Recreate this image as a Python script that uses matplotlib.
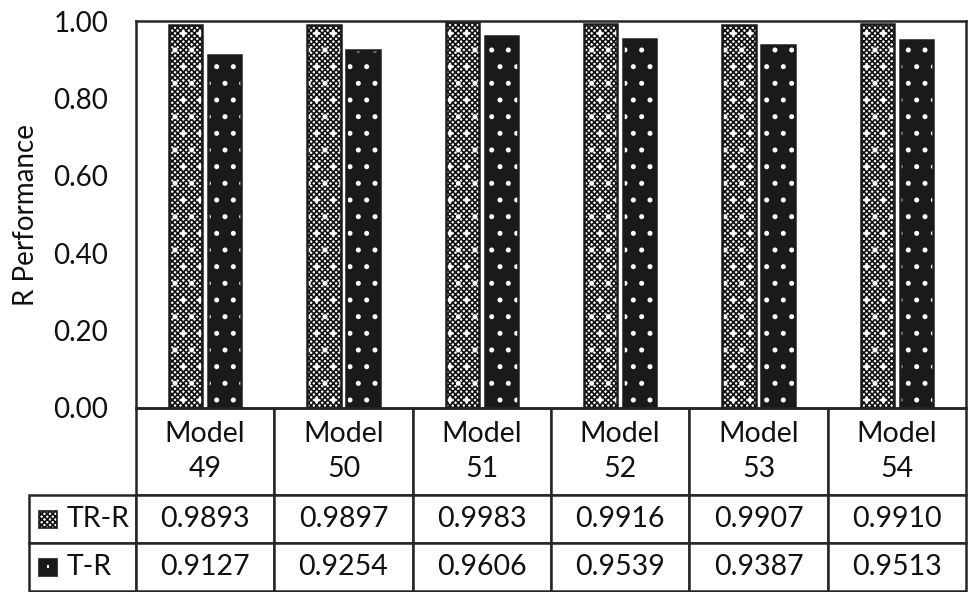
import numpy as np
import matplotlib.pyplot as plt
from matplotlib.patches import Rectangle

plt.rcParams['font.family'] = ['Lato', 'DejaVu Sans']
plt.rcParams['hatch.linewidth'] = 1.2

models = ['Model\n49', 'Model\n50', 'Model\n51', 'Model\n52', 'Model\n53', 'Model\n54']
series = ['TR-R', 'T-R']
tr_r = [0.9893, 0.9897, 0.9983, 0.9916, 0.9907, 0.9910]
t_r = [0.9127, 0.9254, 0.9606, 0.9539, 0.9387, 0.9513]
yticks = [0.0, 0.2, 0.4, 0.6, 0.8, 1.0]

dark = '#1a1a1a'
line = '#262626'

def checker_bar(ax, x, h, w, **kw):
    # grey checker with white dots, then an outline
    ax.bar(x, h, w, facecolor='white', edgecolor='#111111', hatch='xxxxxx', linewidth=0, **kw)
    ax.bar(x, h, w, facecolor='none', edgecolor='white', hatch='.', linewidth=0, **kw)
    ax.bar(x, h, w, facecolor='none', edgecolor=dark, linewidth=1.8, **kw)

def dotted_bar(ax, x, h, w, **kw):
    ax.bar(x, h, w, facecolor=dark, edgecolor='white', hatch='.', linewidth=0, **kw)
    ax.bar(x, h, w, facecolor='none', edgecolor=dark, linewidth=1.8, **kw)

fig = plt.figure(figsize=(9.68, 5.92), dpi=100)
ax = fig.add_axes([136/968, 1-408/592, 830/968, 387/592])

x = np.arange(len(models))
w = 0.239
checker_bar(ax, x - 0.141, tr_r, w)
dotted_bar(ax, x + 0.141, t_r, w)

ax.set_xlim(-0.5, len(models) - 0.5)
ax.set_ylim(0, 1)
ax.set_yticks(yticks)
ax.set_yticklabels(['%.2f' % v for v in yticks], fontsize=20, color='#111111')
ax.tick_params(axis='y', length=0, pad=20)
ax.set_xticks([])
ax.set_ylabel('R Performance', fontsize=20, color='#111111', labelpad=10)
for s in ax.spines.values():
    s.set_color(line)
    s.set_linewidth(1.8)

cell_text = [['%.4f' % v for v in tr_r], ['%.4f' % v for v in t_r]]
tab = ax.table(cellText=cell_text, rowLabels=series, colLabels=models,
               cellLoc='center', rowLoc='left',
               bbox=[0, -183/387, 1, 183/387])
tab.auto_set_font_size(False)
for (r, c), cell in tab.get_celld().items():
    cell.set_edgecolor(line)
    cell.set_linewidth(1.8)
    cell.set_text_props(fontsize=20.5, color='#111111')
    cell.set_height(87 if r == 0 else 48)
    cell.set_width(102 if c == -1 else 138.3)
    if c == -1:
        cell.PAD = 0.35
    if r == 0:
        cell.get_text().set_linespacing(1.45)

# legend swatches inside the row label cells
fig.canvas.draw()
rend = fig.canvas.get_renderer()
for i, name in enumerate(series):
    bb = tab[(i + 1, -1)].get_window_extent(rend).transformed(fig.transFigure.inverted())
    sw, sh = 18/968, 17/592
    x0 = bb.x0 + 10/968
    y0 = bb.y0 + (bb.height - sh) / 2
    if i == 0:
        fig.patches.append(Rectangle((x0, y0), sw, sh, transform=fig.transFigure, facecolor='white',
                                     edgecolor='#111111', hatch='xxxxxx', linewidth=0))
        fig.patches.append(Rectangle((x0, y0), sw, sh, transform=fig.transFigure, facecolor='none',
                                     edgecolor=dark, linewidth=1.2))
    else:
        fig.patches.append(Rectangle((x0, y0), sw, sh, transform=fig.transFigure, facecolor=dark,
                                     edgecolor=dark, linewidth=1.2))
        fig.patches.append(Rectangle((x0 + sw/2 - 1/968, y0 + sh/2 - 1/592), 2/968, 3/592,
                                     transform=fig.transFigure, facecolor='white', linewidth=0))

fig.savefig('out.png', dpi=100)
